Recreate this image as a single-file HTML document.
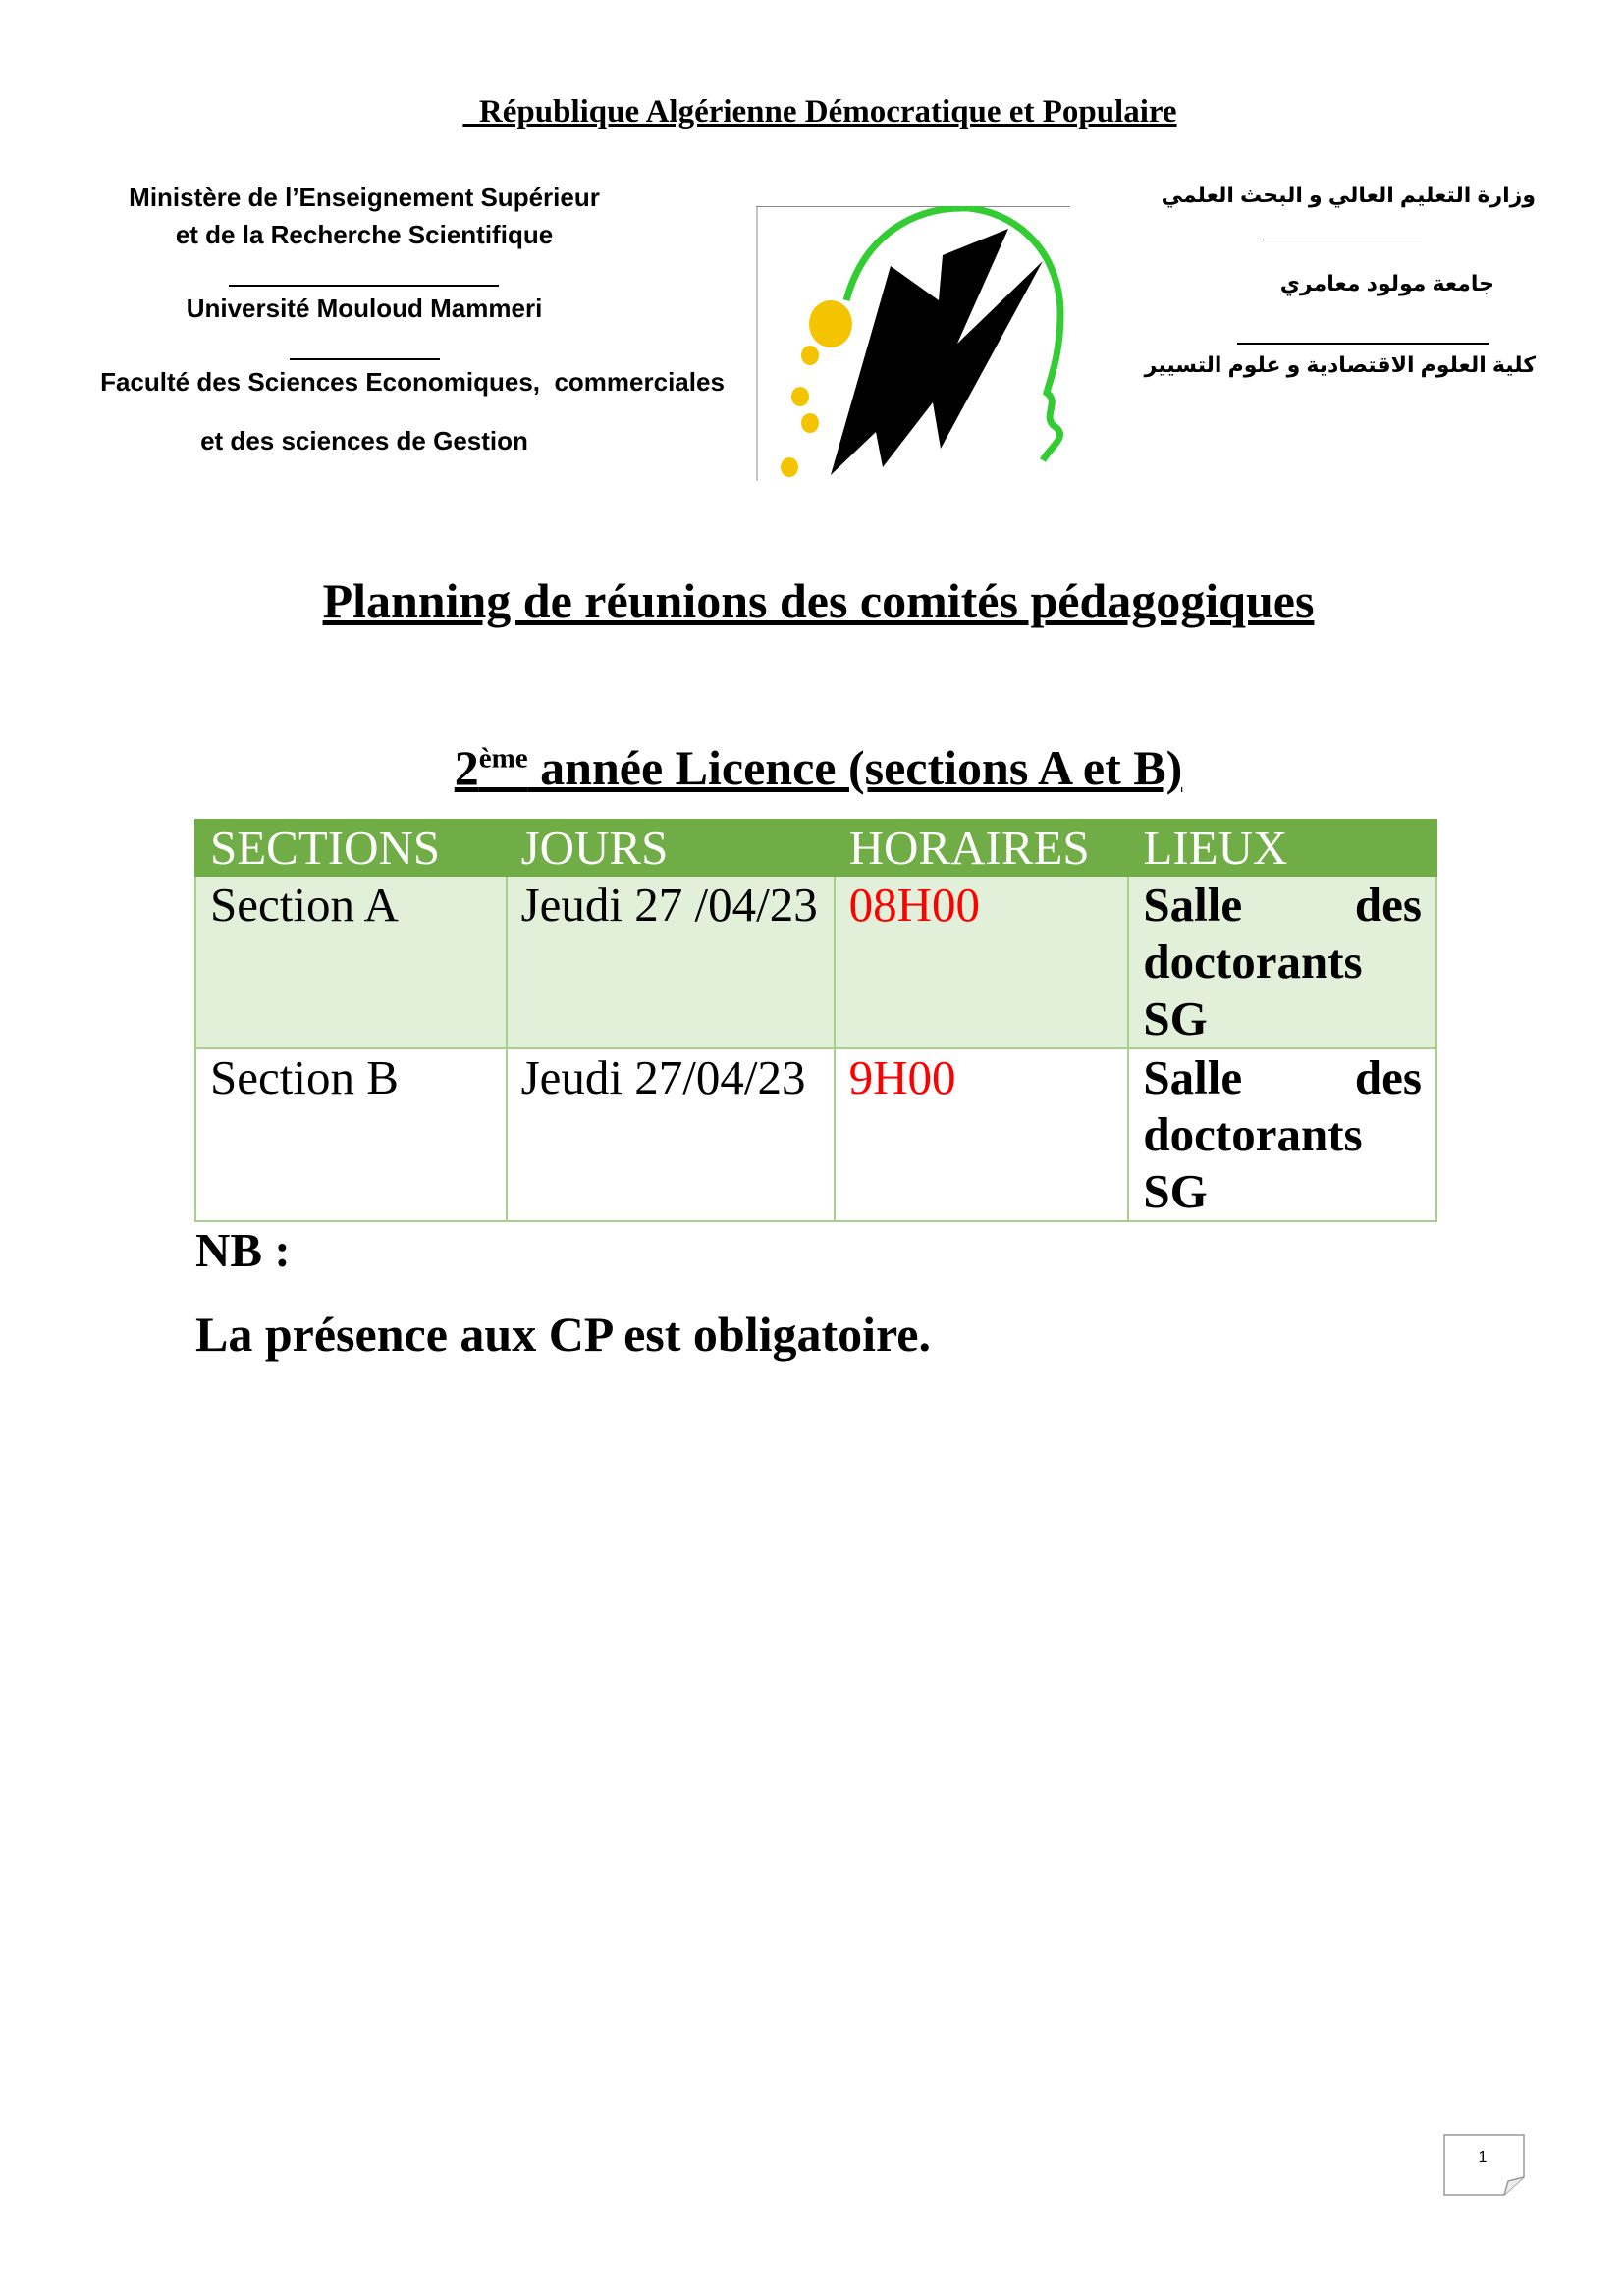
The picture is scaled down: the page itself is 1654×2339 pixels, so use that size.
<!DOCTYPE html>
<html><head><meta charset="utf-8"><style>
body{margin:0;background:#fff;}
#p{position:relative;width:1654px;height:2339px;overflow:hidden;background:#fff;font-family:"Liberation Serif",serif;color:#000;}
.a{position:absolute;white-space:nowrap;}
.c{text-align:center;}
.l{font-family:"Liberation Sans",sans-serif;font-weight:bold;font-size:26px;}
.ar{font-family:"Liberation Sans","DejaVu Sans",sans-serif;font-weight:bold;font-size:22px;direction:rtl;text-align:right;}
.hr{position:absolute;height:2px;background:#000;}
table{position:absolute;left:198px;top:834px;width:1266px;border-collapse:collapse;font-family:"Liberation Serif",serif;font-size:49px;}
td{border:2px solid #a8d08d;vertical-align:top;padding:0 14px;line-height:58px;}
tr.h td{background:#70ad47;color:#fff;height:55px;line-height:55px;border-color:#70ad47;}
tr.r1 td{background:#e2efd9;height:174px;}
tr.r2 td{height:174px;}
.red{color:#f00;}
.b{font-weight:bold;}
</style></head><body><div id="p">
<div class="a c b" style="left:440px;width:790px;top:96px;font-size:33px;text-decoration:underline;">&nbsp;&nbsp;République Algérienne Démocratique et Populaire</div>

<div class="a c l" style="left:100px;width:542px;top:186px;">Ministère de l’Enseignement Supérieur</div>
<div class="a c l" style="left:100px;width:542px;top:224px;">et de la Recherche Scientifique</div>
<div class="hr" style="left:233px;width:275px;top:290px;"></div>
<div class="a c l" style="left:100px;width:542px;top:299px;">Université Mouloud Mammeri</div>
<div class="hr" style="left:295px;width:153px;top:365px;"></div>
<div class="a c l" style="left:90px;width:660px;top:374px;">Faculté des Sciences Economiques,&nbsp; commerciales</div>
<div class="a c l" style="left:100px;width:542px;top:434px;">et des sciences de Gestion</div>

<svg class="a" style="left:770px;top:210px;" width="322" height="280" viewBox="0 0 322 280">
<line x1="0" y1="0" x2="320" y2="0" stroke="#888" stroke-width="2"/>
<line x1="1" y1="0" x2="1" y2="280" stroke="#888" stroke-width="1"/>
<path d="M92 96 C110 30 160 0 217 2 C270 8 310 50 310 110 C310 150 300 175 296 190 C310 200 290 215 305 225 C318 235 300 245 292 259" fill="none" stroke="#33cc33" stroke-width="7"/>
<path d="M76 274 L137 61 L186 96 L190 50 L257 23 L205 140 L292 56 L188 247 L180 200 L129 266 L122 230 Z" fill="#000"/>
<ellipse cx="76" cy="120" rx="22" ry="24" fill="#f5c400"/>
<ellipse cx="55" cy="152" rx="9" ry="10" fill="#f5c400"/>
<ellipse cx="45" cy="194" rx="9" ry="10" fill="#f5c400"/>
<ellipse cx="55" cy="221" rx="9" ry="10" fill="#f5c400"/>
<ellipse cx="34" cy="266" rx="9" ry="10" fill="#f5c400"/>
</svg>

<div class="a ar" style="right:90px;top:186px;">وزارة التعليم العالي و البحث العلمي</div>
<div class="hr" style="left:1286px;width:162px;top:244px;height:1px;"></div>
<div class="a ar" style="right:132px;top:276px;">جامعة مولود معامري</div>
<div class="hr" style="left:1260px;width:256px;top:349px;"></div>
<div class="a ar" style="right:90px;top:359px;">كلية العلوم الاقتصادية و علوم التسيير</div>

<div class="a c b" style="left:280px;width:1107px;top:583px;font-size:50px;text-decoration:underline;">Planning de réunions des comités pédagogiques</div>
<div class="a c b" style="left:280px;width:1107px;top:753px;font-size:50px;text-decoration:underline;">2<sup style="font-size:29px;">ème</sup> année Licence (sections A et B)</div>

<table>
<colgroup><col style="width:317px"><col style="width:335px"><col style="width:300px"><col style="width:314px"></colgroup>
<tr class="h"><td>SECTIONS</td><td>JOURS</td><td>HORAIRES</td><td>LIEUX</td></tr>
<tr class="r1"><td>Section A</td><td>Jeudi 27 /04/23</td><td class="red">08H00</td><td class="b"><div style="display:flex;justify-content:space-between"><span>Salle</span><span>des</span></div>doctorants<br>SG</td></tr>
<tr class="r2"><td>Section B</td><td>Jeudi 27/04/23</td><td class="red">9H00</td><td class="b"><div style="display:flex;justify-content:space-between"><span>Salle</span><span>des</span></div>doctorants<br>SG</td></tr>
</table>

<div class="a b" style="left:199px;top:1245px;font-size:49px;">NB :</div>
<div class="a b" style="left:199px;top:1330px;font-size:50px;">La présence aux CP est obligatoire.</div>

<svg class="a" style="left:1470px;top:2174px;" width="84" height="64">
<path d="M1 1 H82 V44 L62 62 H1 Z" fill="#fff" stroke="#999" stroke-width="1.5"/>
<path d="M82 44 L66 48 L62 62" fill="#eee" stroke="#999" stroke-width="1.5"/>
<text x="40" y="28" font-family="Liberation Sans" font-size="16" text-anchor="middle">1</text>
</svg>
</div></body></html>
